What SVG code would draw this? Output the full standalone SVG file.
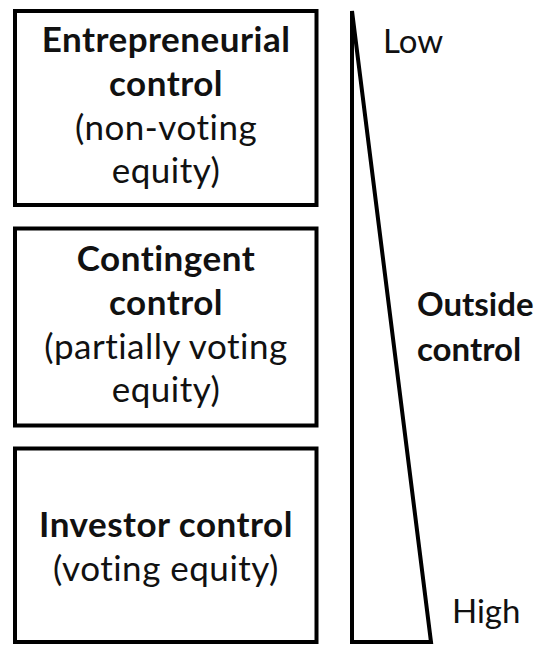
<svg xmlns="http://www.w3.org/2000/svg" width="538" height="645" viewBox="0 0 538 645">
<style>
.box{fill:#fff;stroke:#000;stroke-width:4}
.t{font-family:Lato,"Open Sans","Liberation Sans",sans-serif;font-size:35px;letter-spacing:0.5px;fill:#111;text-anchor:middle}
.b{font-weight:bold}
.r{font-family:Lato,"Open Sans","Liberation Sans",sans-serif;font-size:33px;fill:#111}
</style>
<rect width="538" height="645" fill="#fff"/>
<g id="entrepreneurial">
<rect class="box" x="15" y="11" width="301.5" height="194"/>
<text class="t b" x="166" y="52">Entrepreneurial</text>
<text class="t b" x="166" y="96">control</text>
<text class="t" x="166" y="140">(non-voting</text>
<text class="t" x="166" y="183">equity)</text>
</g>
<g id="contingent">
<rect class="box" x="15" y="228.5" width="301.5" height="197"/>
<text class="t b" x="166" y="271">Contingent</text>
<text class="t b" x="166" y="315">control</text>
<text class="t" x="166" y="359">(partially voting</text>
<text class="t" x="166" y="402">equity)</text>
</g>
<g id="investor">
<rect class="box" x="15" y="448.5" width="301.5" height="193.5"/>
<text class="t b" x="166" y="537">Investor control</text>
<text class="t" x="166" y="581">(voting equity)</text>
</g>
<g id="outside-control">
<polygon points="352,11 352,642 431,642" fill="none" stroke="#000" stroke-width="4"/>
<text class="r" x="383" y="53">Low</text>
<text class="r b" x="417" y="316">Outside</text>
<text class="r b" x="417" y="361">control</text>
<text class="r" x="452" y="623">High</text>
</g>
<g id="connectors"/>
</svg>
